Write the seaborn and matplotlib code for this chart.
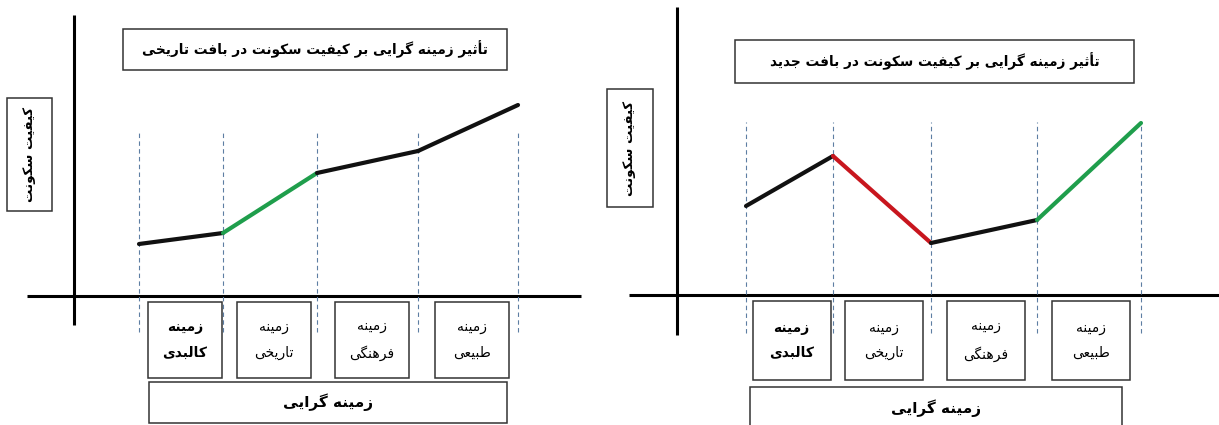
import numpy as np
import pandas as pd
import matplotlib
matplotlib.use("Agg")
import matplotlib.pyplot as plt
from matplotlib.patches import Rectangle
import seaborn as sns

# ---- data ----
titles = ["تأثیر زمینه گرایی بر کیفیت سکونت در بافت تاریخی",
          "تأثیر زمینه گرایی بر کیفیت سکونت در بافت جدید"]
ylabel = "کیفیت سکونت"
xlabel = "زمینه گرایی"
categories = ["زمینه\nکالبدی", "زمینه\nتاریخی", "زمینه\nفرهنگی", "زمینه\nطبیعی"]

# x positions of the dashed boundaries (distance from the y axis)
hist_bounds = [6.5, 14.9, 24.3, 34.4, 44.4]
new_bounds = [6.9, 15.6, 25.4, 36.0, 46.4]
# quality level at each boundary
hist_quality = [5.2, 6.3, 12.3, 14.5, 19.1]
new_quality = [8.9, 13.9, 5.2, 7.5, 17.2]
# trend of each segment
hist_trend = ["flat", "up", "flat", "flat"]
new_trend = ["flat", "down", "flat", "up"]

trend_colors = {"flat": "#111111", "up": "#1f9e4c", "down": "#c8161e"}

# ---- tiny persian shaper (matplotlib has no arabic shaping) ----
FORMS = {
    "أ": ("\uFE83", "\uFE84"), "ا": ("\uFE8D", "\uFE8E"),
    "ب": ("\uFE8F", "\uFE90", "\uFE91", "\uFE92"),
    "ت": ("\uFE95", "\uFE96", "\uFE97", "\uFE98"),
    "ث": ("\uFE99", "\uFE9A", "\uFE9B", "\uFE9C"),
    "ج": ("\uFE9D", "\uFE9E", "\uFE9F", "\uFEA0"),
    "خ": ("\uFEA5", "\uFEA6", "\uFEA7", "\uFEA8"),
    "د": ("\uFEA9", "\uFEAA"), "ر": ("\uFEAD", "\uFEAE"),
    "ز": ("\uFEAF", "\uFEB0"),
    "س": ("\uFEB1", "\uFEB2", "\uFEB3", "\uFEB4"),
    "ط": ("\uFEC1", "\uFEC2", "\uFEC3", "\uFEC4"),
    "ع": ("\uFEC9", "\uFECA", "\uFECB", "\uFECC"),
    "ف": ("\uFED1", "\uFED2", "\uFED3", "\uFED4"),
    "ل": ("\uFEDD", "\uFEDE", "\uFEDF", "\uFEE0"),
    "م": ("\uFEE1", "\uFEE2", "\uFEE3", "\uFEE4"),
    "ن": ("\uFEE5", "\uFEE6", "\uFEE7", "\uFEE8"),
    "ه": ("\uFEE9", "\uFEEA", "\uFEEB", "\uFEEC"),
    "و": ("\uFEED", "\uFEEE"),
    "ی": ("\uFBFC", "\uFBFD", "\uFBFE", "\uFBFF"),
    "ک": ("\uFB8E", "\uFB8F", "\uFB90", "\uFB91"),
    "گ": ("\uFB92", "\uFB93", "\uFB94", "\uFB95"),
}


def shape_line(s):
    out = []
    for i, c in enumerate(s):
        if c not in FORMS:
            out.append(c)
            continue
        f = FORMS[c]
        prev = s[i - 1] if i > 0 else ""
        nxt = s[i + 1] if i + 1 < len(s) else ""
        joins_prev = prev in FORMS and len(FORMS[prev]) == 4
        joins_next = len(f) == 4 and nxt in FORMS
        if joins_prev and joins_next:
            out.append(f[3])
        elif joins_prev:
            out.append(f[1])
        elif joins_next:
            out.append(f[2])
        else:
            out.append(f[0])
    return "".join(out)[::-1]


def fa(s):
    return "\n".join(shape_line(l) for l in s.split("\n"))


sns.set_theme(style="white")
plt.rcParams["font.family"] = ["DejaVu Sans"]
plt.rcParams["text.color"] = "black"

fig = plt.figure(figsize=(12.19, 4.25), dpi=100)

panels = [
    dict(title=titles[0], bounds=hist_bounds, quality=hist_quality, trend=hist_trend,
         rect=[0.0, 0.0, 609 / 1219, 1.0], xlim=(-7.4, 53.5), ylim=(-12.9, 29.6),
         vaxis=(-2.9, 28.1), haxis=(-4.7, 50.7), dash=(-3.6, 16.6),
         tbox=(4.9, 22.6, 38.4, 4.1), ybox=(-6.7, 8.5, 4.5, 11.3),
         cbox=(-8.2, 7.6, 7.4, 0.4), bbox=(7.5, -12.7, 35.8, 4.1)),
    dict(title=titles[1], bounds=new_bounds, quality=new_quality, trend=new_trend,
         rect=[600 / 1219, 0.0, 619 / 1219, 1.0], xlim=(-7.7, 54.2), ylim=(-13.0, 29.5),
         vaxis=(-4.0, 28.8), haxis=(-4.8, 54.2), dash=(-3.8, 17.3),
         tbox=(5.8, 21.2, 39.9, 4.3), ybox=(-7.0, 8.8, 4.6, 11.8),
         cbox=(-8.5, 7.8, 7.8, 0.2), bbox=(7.3, -13.4, 37.2, 4.2)),
]

for p in panels:
    ax = fig.add_axes(p["rect"])

    # axes cross
    ax.plot([0, 0], p["vaxis"], color="black", lw=2.2, solid_capstyle="butt")
    ax.plot(p["haxis"], [0, 0], color="black", lw=2.2, solid_capstyle="butt")

    # dashed boundaries
    for b in p["bounds"]:
        ax.plot([b, b], p["dash"], color="#5d7ea3", lw=0.8, ls=(0, (4, 3)))

    # line segments
    rows = []
    for i, t in enumerate(p["trend"]):
        for j in (i, i + 1):
            rows.append({"x": p["bounds"][j], "y": p["quality"][j], "seg": i})
    df = pd.DataFrame(rows)
    pal = {i: trend_colors[t] for i, t in enumerate(p["trend"])}
    sns.lineplot(data=df, x="x", y="y", hue="seg", palette=pal, estimator=None,
                 sort=False, legend=False, lw=3.0, ax=ax,
                 solid_capstyle="round")
    ax.set_xlim(*p["xlim"])
    ax.set_ylim(*p["ylim"])
    ax.axis("off")

    # title box
    x0, y0, w, h = p["tbox"]
    ax.add_patch(Rectangle((x0, y0), w, h, fill=False, ec="#333333", lw=1.1))
    ax.text(x0 + w / 2, y0 + h / 2, fa(p["title"]), ha="center", va="center",
            fontsize=9.8, fontweight="bold")

    # y label box
    x0, y0, w, h = p["ybox"]
    ax.add_patch(Rectangle((x0, y0), w, h, fill=False, ec="#333333", lw=1.1))
    ax.text(x0 + w / 2, y0 + h / 2, fa(ylabel), ha="center", va="center",
            rotation=90, fontsize=9.5, fontweight="bold")

    # category boxes
    ybot, ytop, cw, shift = p["cbox"]
    for i, cat in enumerate(categories):
        mid = (p["bounds"][i] + p["bounds"][i + 1]) / 2 + shift
        ax.add_patch(Rectangle((mid - cw / 2, ybot), cw, -0.6 - ybot, fill=False,
                               ec="#333333", lw=1.1))
        ax.text(mid, (ybot - 0.6) / 2, fa(cat), ha="center", va="center",
                fontsize=10, linespacing=2.0,
                fontweight="bold" if i == 0 else "normal")

    # bottom box
    x0, y0, w, h = p["bbox"]
    ax.add_patch(Rectangle((x0, y0), w, h, fill=False, ec="#333333", lw=1.1))
    ax.text(x0 + w / 2, y0 + h / 2, fa(xlabel), ha="center", va="center",
            fontsize=11, fontweight="bold")

fig.savefig("out.png", dpi=100, facecolor="white")
